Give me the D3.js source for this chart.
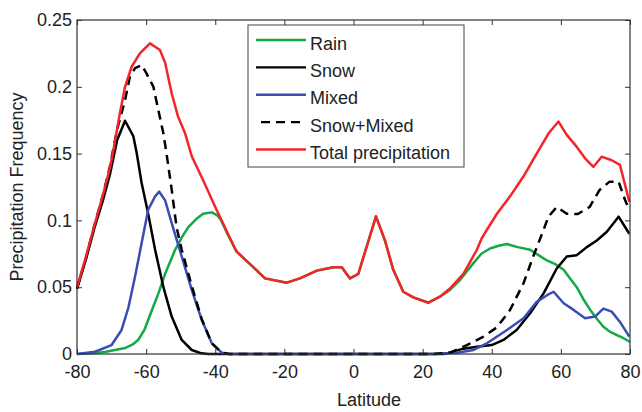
<!DOCTYPE html>
<html>
<head>
<meta charset="utf-8">
<script src="https://cdn.jsdelivr.net/npm/d3@7"></script>
<style>
  body { margin: 0; background: #fff; }
  svg { display: block; font-family: "Liberation Sans", Arial, sans-serif; }
  .tick text { font-size: 18px; fill: #222; }
</style>
</head>
<body>
<svg id="chart" width="642" height="412"></svg>
<script>
// values: [latitude, frequency]
const rain = [[-80,0],[-75,0.0005],[-72,0.0015],[-69,0.003],[-66,0.0045],[-64,0.007],[-62.3,0.0105],[-60.5,0.018],
  [-59.4,0.0254],[-58,0.035],[-56.5,0.045],[-54.5,0.06],[-51.6,0.078],[-49.5,0.088],[-47.8,0.095],[-45.5,0.101],
  [-43.5,0.105],[-41,0.106],[-39.5,0.104],[-38.5,0.101],[-36.5,0.09],[-34.3,0.079],[-33.8,0.0766],[-29,0.065],
  [-25.6,0.0566],[-19.3,0.0534],[-15.5,0.0566],[-10.6,0.0624],[-5.8,0.065],[-3.4,0.065],[-1,0.0566],[1.4,0.06],
  [6.5,0.103],[9.1,0.085],[11.5,0.063],[14.4,0.0466],[17.3,0.0424],[21.7,0.0384],[25,0.0429],[27.9,0.048],
  [30.8,0.0554],[34.7,0.068],[37,0.075],[39.5,0.079],[42,0.081],[44.4,0.0823],[47.5,0.08],[51.1,0.078],
  [53.5,0.074],[56,0.07],[58.5,0.067],[60.8,0.063],[62.5,0.057],[64.6,0.05],[66.5,0.041],[68.5,0.033],
  [70.5,0.026],[72.3,0.0204],[74,0.017],[76.2,0.0142],[78,0.012],[80,0.009]];

const snow = [[-80,0.049],[-77.5,0.07],[-75,0.094],[-72.5,0.115],[-70.5,0.134],[-68.4,0.16],[-66.1,0.1746],
  [-63.7,0.163],[-62.7,0.15],[-61.3,0.128],[-59.4,0.105],[-57.4,0.078],[-55,0.05],[-52.6,0.028],[-49.7,0.0105],
  [-46.8,0.003],[-44,0.0005],[-42,0],[26,0],[27,0.0005],[31.8,0.004],[35.7,0.0055],[40,0.0067],[43.4,0.0105],
  [47.2,0.018],[51.1,0.0305],[55,0.0454],[58.8,0.064],[61.7,0.073],[64.6,0.074],[67.5,0.08],[70.4,0.085],
  [73.3,0.0915],[76.7,0.1028],[79.8,0.09]];

const mixed = [[-80,0],[-74.8,0.0017],[-70,0.0067],[-67.1,0.018],[-65.1,0.035],[-63.2,0.058],[-61.3,0.083],
  [-59.4,0.108],[-57.4,0.118],[-56.2,0.1215],[-54.5,0.115],[-52.6,0.098],[-49.7,0.073],[-46.8,0.048],
  [-43.9,0.0254],[-41,0.008],[-38.1,0.001],[-36,0],[23,0],[30,0.001],[34.7,0.003],[38.6,0.008],[44.4,0.018],
  [49.2,0.0267],[53,0.039],[56,0.044],[57.9,0.0466],[60.8,0.038],[63.7,0.033],[67,0.0267],[69.9,0.028],
  [72.3,0.034],[74.7,0.0317],[77.1,0.024],[79.8,0.013]];

const snowMixed = [[-80,0.049],[-77.5,0.071],[-75,0.096],[-72.5,0.119],[-70.5,0.14],[-68.4,0.168],[-66.1,0.19],
  [-64.7,0.2075],[-63.2,0.214],[-61.3,0.2163],[-59.9,0.21],[-57.9,0.2],[-56.5,0.183],[-55,0.165],[-54.1,0.15],
  [-52.6,0.123],[-51.2,0.095],[-49.7,0.078],[-46.8,0.051],[-43.9,0.026],[-41,0.008],[-38.1,0.001],[-36,0],
  [23,0],[28,0.001],[32.8,0.0067],[37.6,0.013],[41.5,0.02],[45.3,0.033],[49.2,0.053],[52,0.073],[55,0.093],
  [56.4,0.1028],[58.8,0.11],[61.7,0.105],[64.9,0.1048],[68.3,0.11],[71.2,0.1228],[74.1,0.129],[76.7,0.129],
  [78.6,0.115],[79.8,0.108]];

const total = [[-80,0.05],[-77.5,0.072],[-75,0.096],[-72.5,0.119],[-70.5,0.139],[-69.5,0.152],[-67.6,0.18],
  [-66.1,0.2],[-64.2,0.215],[-61.8,0.225],[-58.9,0.2325],[-56,0.2275],[-54.5,0.218],[-52.6,0.195],[-50.8,0.178],
  [-48.7,0.165],[-46.8,0.148],[-43.5,0.13],[-40,0.11],[-38.5,0.102],[-36.5,0.091],[-34.3,0.079],[-33.8,0.0766],
  [-29,0.065],[-25.6,0.0566],[-19.3,0.0534],[-15.5,0.0566],[-10.6,0.0624],[-5.8,0.065],[-3.4,0.065],[-1,0.0566],
  [1.4,0.06],[6.5,0.103],[9.1,0.085],[11.5,0.063],[14.4,0.0466],[17.3,0.0424],[21.7,0.0384],[25,0.0429],
  [27.9,0.049],[31.8,0.06],[35.7,0.078],[37.1,0.0866],[38.6,0.093],[41.5,0.105],[45.3,0.118],[49.2,0.133],
  [53,0.15],[56.4,0.165],[59.3,0.174],[61.7,0.164],[64.6,0.155],[67,0.1465],[69.4,0.14],[71.8,0.1477],
  [74.7,0.145],[77.1,0.1415],[79.8,0.114]];

const seriesNames = ["Rain", "Snow", "Mixed", "Snow+Mixed", "Total precipitation"];
const xTicks = [-80, -60, -40, -20, 0, 20, 40, 60, 80];
const yTicks = [0, 0.05, 0.1, 0.15, 0.2, 0.25];

const series = [
  { name: seriesNames[0], data: rain, color: "#14a846", dash: null },
  { name: seriesNames[1], data: snow, color: "#000000", dash: null },
  { name: seriesNames[2], data: mixed, color: "#3b4cb4", dash: null },
  { name: seriesNames[3], data: snowMixed, color: "#000000", dash: "9,6" },
  { name: seriesNames[4], data: total, color: "#f42428", dash: null }
];

const svg = d3.select("#chart");
const box = { left: 77, right: 630, top: 20, bottom: 354 };

const x = d3.scaleLinear().domain([-80, 80]).range([box.left, box.right]);
const y = d3.scaleLinear().domain([0, 0.25]).range([box.bottom, box.top]);

// axes, ticks pointing inward like the original
svg.append("g")
  .attr("transform", `translate(0,${box.bottom})`)
  .call(d3.axisBottom(x).tickValues(xTicks).tickFormat(d => String(d))
    .tickSizeInner(-5).tickSizeOuter(0).tickPadding(11));

svg.append("g")
  .attr("transform", `translate(${box.left},0)`)
  .call(d3.axisLeft(y).tickValues(yTicks).tickFormat(d => String(+d.toFixed(2)))
    .tickSizeInner(-5).tickSizeOuter(0).tickPadding(5));

svg.append("g")
  .attr("transform", `translate(0,${box.top})`)
  .call(d3.axisTop(x).tickValues(xTicks).tickFormat("").tickSizeInner(-5).tickSizeOuter(0));

svg.append("g")
  .attr("transform", `translate(${box.right},0)`)
  .call(d3.axisRight(y).tickValues(yTicks).tickFormat("").tickSizeInner(-5).tickSizeOuter(0));

svg.selectAll(".domain").remove();
svg.selectAll(".tick line").attr("stroke", "#333");

const line = d3.line().x(d => x(d[0])).y(d => y(d[1]));

svg.append("g").selectAll("path")
  .data(series)
  .enter().append("path")
  .attr("d", d => line(d.data))
  .attr("fill", "none")
  .attr("stroke", d => d.color)
  .attr("stroke-width", 2.5)
  .attr("stroke-dasharray", d => d.dash)
  .attr("stroke-linejoin", "round");

// plot box
svg.append("rect")
  .attr("x", box.left).attr("y", box.top)
  .attr("width", box.right - box.left).attr("height", box.bottom - box.top)
  .attr("fill", "none").attr("stroke", "#333").attr("stroke-width", 1.2);

// legend
const legend = svg.append("g");
legend.append("rect")
  .attr("x", 248).attr("y", 25).attr("width", 216).attr("height", 142)
  .attr("fill", "#fff").attr("stroke", "#444").attr("stroke-width", 1);

const rowY = d3.scalePoint().domain(seriesNames).range([40, 149.5]);
const rows = legend.selectAll(".entry")
  .data(series)
  .enter().append("g")
  .attr("class", "entry")
  .attr("transform", d => `translate(0,${rowY(d.name)})`);

rows.append("line")
  .attr("x1", d => d.dash ? 261 : 256).attr("x2", 306)
  .attr("stroke", d => d.color)
  .attr("stroke-width", 2.3)
  .attr("stroke-dasharray", d => d.dash);

rows.append("text")
  .attr("x", 310).attr("y", 9.5)
  .attr("font-size", 18).attr("fill", "#222")
  .text(d => d.name);

// axis titles
svg.append("text")
  .attr("x", 369).attr("y", 406)
  .attr("text-anchor", "middle")
  .attr("font-size", 18).attr("fill", "#222")
  .text("Latitude");

svg.append("text")
  .attr("transform", "translate(23,187) rotate(-90)")
  .attr("text-anchor", "middle")
  .attr("font-size", 18).attr("fill", "#222")
  .text("Precipitation Frequency");
</script>
</body>
</html>
